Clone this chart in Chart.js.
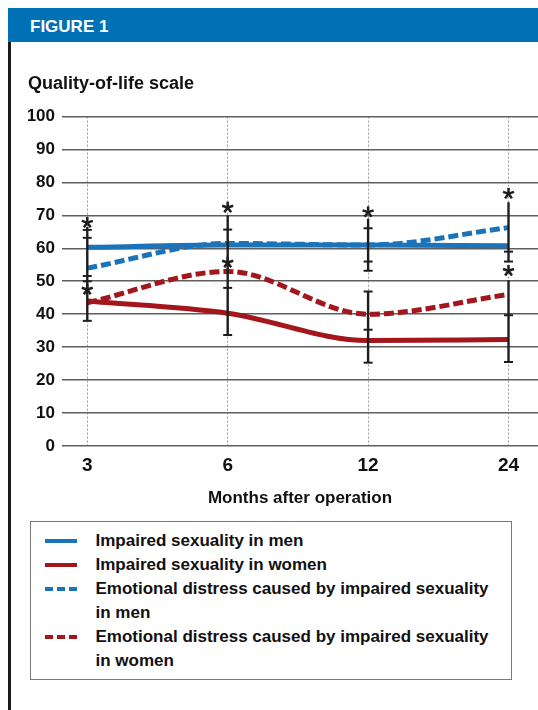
<!DOCTYPE html>
<html>
<head>
<meta charset="utf-8">
<script src="https://cdn.jsdelivr.net/npm/chart.js@4/dist/chart.umd.min.js"></script>
<style>
  html, body { margin: 0; padding: 0; background: #fff; }
  body { width: 538px; height: 710px; position: relative; overflow: hidden;
         font-family: "Liberation Sans", Arial, Helvetica, sans-serif; }
  #header { position: absolute; left: 8px; top: 8px; width: 530px; height: 34px;
            box-sizing: border-box; padding: 4px 0 0 22px; line-height: 30px;
            background: #0071b4; color: #fff; font-weight: bold; font-size: 17px; }
  #leftRule { position: absolute; left: 8px; top: 42px; width: 3px; height: 668px; background: #1a1a1a; }
  #chartWrap { position: absolute; left: 0; top: 60px; width: 538px; height: 449px; }
  #legend { position: absolute; left: 30px; top: 521px; width: 482px; height: 159px;
            box-sizing: border-box; border: 1.5px solid #7a7a7a; padding-top: 7px; }
  .item { display: flex; align-items: flex-start; }
  .sym { flex: 0 0 32px; height: 24px; margin-left: 13.5px; margin-right: 19px; position: relative; }
  .sym span { position: absolute; left: 0; top: 10px; width: 32px; height: 4px; }
  .txt { font-weight: bold; font-size: 17px; line-height: 24px; color: #111; width: 405px; }
</style>
</head>
<body>
<div id="header">FIGURE 1</div>
<div id="leftRule"></div>
<div id="chartWrap"><canvas id="c" width="538" height="449"></canvas></div>
<div id="legend"></div>
<script>
// ---- data ----
const monthLabels = ['3', '6', '12', '24'];
const monthIdx = [0, 1, 2, 3];
const yAxisTitle = 'Quality-of-life scale';
const xAxisTitle = 'Months after operation';

const seriesNames = [
  'Impaired sexuality in men',
  'Impaired sexuality in women',
  'Emotional distress caused by impaired sexuality in men',
  'Emotional distress caused by impaired sexuality in women'
];
const menSexuality    = [60.3, 61, 61, 60.8];
const womenSexuality  = [44, 40.3, 32, 32.3];
const menDistress     = [54, 61.5, 61, 66.3];
const womenDistress   = [43.5, 53, 40, 46];

// error bars per month: vertical segments, cap positions, significance stars
const errRanges = [
  [[38, 66.5]],
  [[33.7, 70]],
  [[25.3, 46.9], [53.2, 69]],
  [[25.5, 50.3], [56, 74]]
];
const errCaps = [
  [38, 50, 51.6, 63.2, 65.6],
  [33.7, 48, 65.7],
  [25.3, 35.3, 46.9, 53.2, 56, 66.1],
  [25.5, 39.7, 56, 59]
];
const errStars = [
  [67.8, 47.5],
  [72.4, 55.7],
  [71],
  [76.6, 53.2]
];

// ---- styles ----
const BLUE = '#1b74ba';
const RED = '#a3161c';
const FONT = '"Liberation Sans", Arial, Helvetica, sans-serif';

const seriesValues = [menSexuality, womenSexuality, menDistress, womenDistress];
const seriesColors = [BLUE, RED, BLUE, RED];
const seriesDashed = [false, false, true, true];

const datasets = seriesValues.map((vals, i) => ({
  label: seriesNames[i],
  data: monthIdx.map((m, j) => ({ x: m, y: vals[j] })),
  borderColor: seriesColors[i],
  backgroundColor: seriesColors[i],
  borderWidth: 5,
  borderDash: seriesDashed[i] ? [10, 4] : [],
  borderCapStyle: 'butt',
  pointRadius: 0,
  cubicInterpolationMode: 'monotone',
  fill: false,
  order: seriesDashed[i] ? 0 : 1
}));

const errorBarPlugin = {
  id: 'errorBars',
  afterDatasetsDraw(chart) {
    const { ctx, scales: { x, y } } = chart;
    ctx.save();
    ctx.strokeStyle = '#1e1e1e';
    ctx.lineCap = 'butt';
    monthIdx.forEach((m, i) => {
      const px = x.getPixelForValue(m);
      ctx.lineWidth = 2.4;
      errRanges[i].forEach(([lo, hi]) => {
        ctx.beginPath();
        ctx.moveTo(px, y.getPixelForValue(lo));
        ctx.lineTo(px, y.getPixelForValue(hi));
        ctx.stroke();
      });
      ctx.lineWidth = 2;
      errCaps[i].forEach(v => {
        const py = y.getPixelForValue(v);
        ctx.beginPath();
        ctx.moveTo(px - 4.5, py);
        ctx.lineTo(px + 4.5, py);
        ctx.stroke();
      });
      ctx.lineWidth = 2.5;
      errStars[i].forEach(v => {
        const py = y.getPixelForValue(v);
        for (let k = 0; k < 5; k++) {
          const a = -Math.PI / 2 + k * 2 * Math.PI / 5;
          ctx.beginPath();
          ctx.moveTo(px, py);
          ctx.lineTo(px + 5.8 * Math.cos(a), py + 5.8 * Math.sin(a));
          ctx.stroke();
        }
      });
    });
    ctx.restore();
  }
};

new Chart(document.getElementById('c'), {
  type: 'line',
  data: { datasets },
  options: {
    responsive: false,
    animation: false,
    layout: { padding: { left: 28, right: 0, top: 0, bottom: 0 } },
    plugins: {
      legend: { display: false },
      tooltip: { enabled: false },
      title: {
        display: true,
        text: yAxisTitle,
        align: 'start',
        color: '#111',
        font: { family: FONT, size: 18, weight: 'bold' },
        padding: { top: 13, bottom: 22 }
      }
    },
    scales: {
      x: {
        type: 'linear',
        min: -0.18,
        max: 3.21,
        afterBuildTicks: s => { s.ticks = monthIdx.map(v => ({ value: v })); },
        afterFit: s => { s.height = 63; },
        ticks: {
          padding: 8,
          color: '#111',
          font: { family: FONT, size: 19, weight: 'bold' },
          callback: v => monthLabels[v]
        },
        grid: { color: '#9a9a9a', lineWidth: 1, drawTicks: false },
        border: { display: false, dash: [2, 2] },
        title: {
          display: true,
          text: xAxisTitle,
          color: '#111',
          font: { family: FONT, size: 17, weight: 'bold' },
          padding: { top: 0, bottom: 0 }
        }
      },
      y: {
        min: 0,
        max: 100,
        afterFit: s => { s.width = 34; },
        ticks: {
          stepSize: 10,
          padding: 7,
          color: '#111',
          font: { family: FONT, size: 17, weight: 'bold' }
        },
        grid: { color: '#5e5e5e', lineWidth: 1.6, drawTicks: false },
        border: { display: false }
      }
    }
  },
  plugins: [errorBarPlugin]
});

// HTML legend built from the same series arrays
const legend = document.getElementById('legend');
seriesNames.forEach((name, i) => {
  const item = document.createElement('div');
  item.className = 'item';
  const sym = document.createElement('div');
  sym.className = 'sym';
  const bar = document.createElement('span');
  bar.style.background = seriesDashed[i]
    ? `repeating-linear-gradient(to right, ${seriesColors[i]} 0 8px, transparent 8px 12px)`
    : seriesColors[i];
  sym.appendChild(bar);
  const txt = document.createElement('div');
  txt.className = 'txt';
  txt.textContent = name;
  item.appendChild(sym);
  item.appendChild(txt);
  legend.appendChild(item);
});
</script>
</body>
</html>
